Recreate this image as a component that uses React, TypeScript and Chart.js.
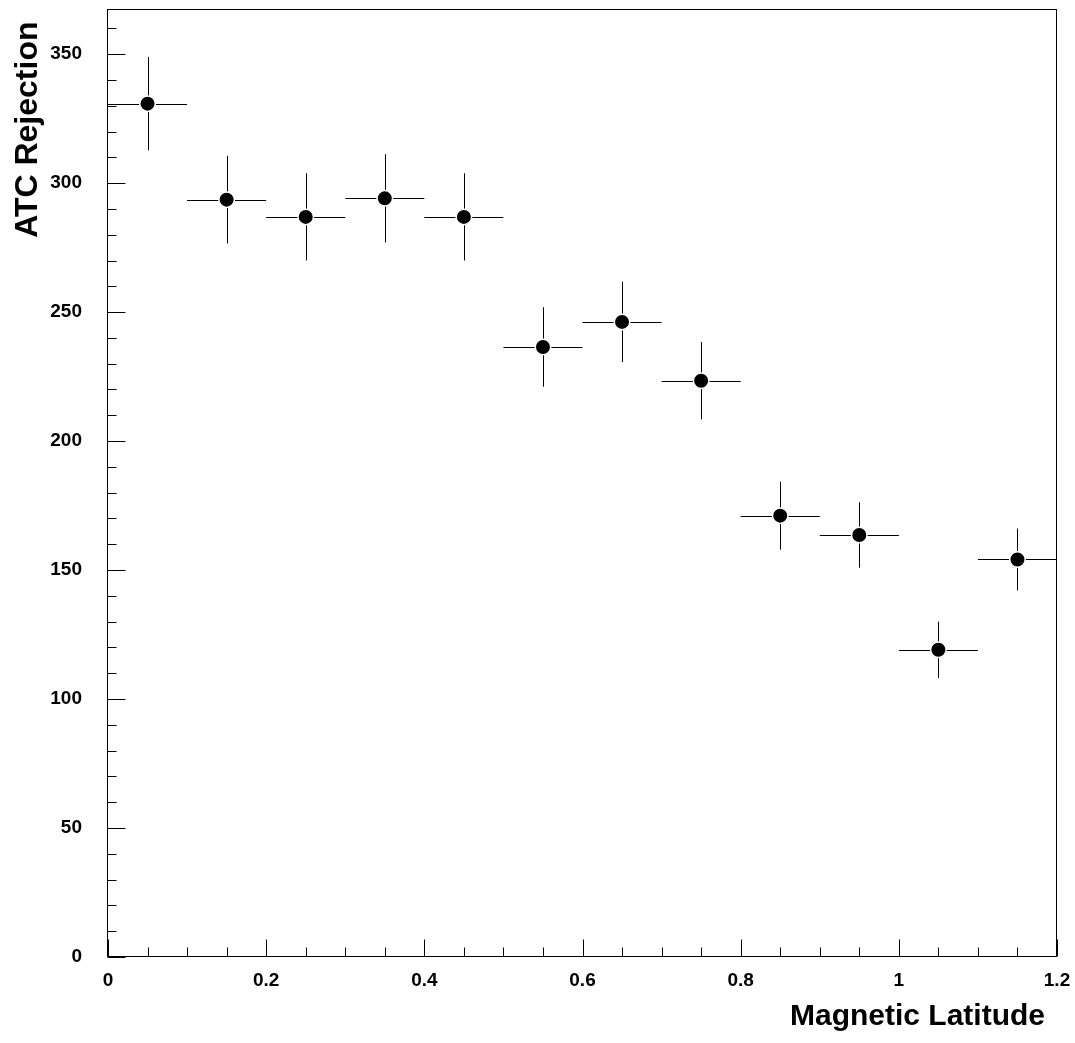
import React, { useEffect, useRef } from "react";
import { Chart, registerables } from "chart.js";

Chart.register(...registerables);

const xCenters = [0.05, 0.15, 0.25, 0.35, 0.45, 0.55, 0.65, 0.75, 0.85, 0.95, 1.05, 1.15];
const yValues = [330.8, 293.6, 286.9, 294.1, 286.9, 236.5, 246.2, 223.4, 171.1, 163.6, 119.1, 154.1];
const yErrors = [18.1, 17.0, 16.9, 17.1, 16.9, 15.4, 15.6, 15.0, 13.2, 12.7, 10.9, 12.0];
const xHalfWidths = [0.05, 0.05, 0.05, 0.05, 0.05, 0.05, 0.05, 0.05, 0.05, 0.05, 0.05, 0.05];

const xTickLabels = ["0", "0.2", "0.4", "0.6", "0.8", "1", "1.2"];
const yTickLabels = ["0", "50", "100", "150", "200", "250", "300", "350"];

const xTitle = "Magnetic Latitude";
const yTitle = "ATC Rejection";

const X_MIN = 0;
const X_MAX = 1.2;
const Y_MIN = 0;
const Y_MAX = 367.5;

const FONT = "'Liberation Sans', Arial, Helvetica, sans-serif";

const zeroPad = (s: any) => {
  s.paddingTop = 0;
  s.paddingBottom = 0;
  s.paddingLeft = 0;
  s.paddingRight = 0;
};

const frameAndErrors = {
  id: "frameAndErrors",
  beforeDatasetsDraw(chart: any) {
    const { ctx } = chart;
    const xs = chart.scales.x;
    const ys = chart.scales.y;
    ctx.save();
    ctx.strokeStyle = "#000";
    ctx.lineWidth = 1;
    for (let i = 0; i < xCenters.length; i++) {
      const cx = xs.getPixelForValue(xCenters[i]);
      const cy = ys.getPixelForValue(yValues[i]);
      const x0 = xs.getPixelForValue(xCenters[i] - xHalfWidths[i]);
      const x1 = xs.getPixelForValue(xCenters[i] + xHalfWidths[i]);
      const y0 = ys.getPixelForValue(yValues[i] + yErrors[i]);
      const y1 = ys.getPixelForValue(yValues[i] - yErrors[i]);
      const px = Math.round(cx) + 0.5;
      const py = Math.round(cy) + 0.5;
      ctx.beginPath();
      ctx.moveTo(x0, py);
      ctx.lineTo(x1, py);
      ctx.moveTo(px, y0);
      ctx.lineTo(px, y1);
      ctx.stroke();
    }
    ctx.restore();
  },
  afterDraw(chart: any) {
    const { ctx, chartArea } = chart;
    const xs = chart.scales.x;
    const ys = chart.scales.y;
    const { left, right, top, bottom } = chartArea;
    ctx.save();
    ctx.strokeStyle = "#000";
    ctx.lineWidth = 1;
    const L = Math.round(left) - 0.5;
    const B = Math.round(bottom) - 0.5;
    ctx.strokeRect(L, Math.round(top) + 0.5, Math.round(right) - Math.round(left), Math.round(bottom) - Math.round(top) - 1);
    ctx.beginPath();
    for (let v = 0; v <= Y_MAX + 1e-9; v += 10) {
      const p = Math.round(ys.getPixelForValue(v)) + 0.5;
      const len = Math.round(v) % 50 === 0 ? 18 : 9;
      ctx.moveTo(L, p);
      ctx.lineTo(L + len, p);
    }
    for (let k = 0; k <= 24; k++) {
      const v = k * 0.05;
      const p = Math.round(xs.getPixelForValue(v)) + 0.5;
      const len = k % 4 === 0 ? 17 : 9;
      ctx.moveTo(p, B);
      ctx.lineTo(p, B - len);
    }
    ctx.stroke();

    ctx.fillStyle = "#000";
    ctx.font = `bold 30px ${FONT}`;
    ctx.textAlign = "right";
    ctx.textBaseline = "alphabetic";
    ctx.fillText(xTitle, right - 12, 1025);

    ctx.font = `bold 32px ${FONT}`;
    ctx.translate(37, top + 12.5);
    ctx.rotate(-Math.PI / 2);
    ctx.textAlign = "right";
    ctx.textBaseline = "alphabetic";
    ctx.fillText(yTitle, 0, 0);
    ctx.restore();
  },
};

export default function App() {
  const ref = useRef<HTMLCanvasElement | null>(null);
  useEffect(() => {
    const canvas = ref.current;
    if (!canvas) return;
    const chart = new Chart(canvas, {
      type: "scatter",
      data: {
        datasets: [
          {
            data: xCenters.map((x, i) => ({ x, y: yValues[i] })),
            backgroundColor: "#000",
            borderColor: "#fff",
            borderWidth: 1.5,
            pointRadius: 7.75,
            pointHoverRadius: 7.75,
          },
        ],
      },
      options: {
        animation: false,
        responsive: false,
        devicePixelRatio: 1,
        events: [],
        layout: { autoPadding: false, padding: { left: 0, top: 9, right: 18, bottom: 0 } },
        plugins: {
          legend: { display: false },
          tooltip: { enabled: false },
          title: { display: false },
        },
        scales: {
          x: {
            type: "linear",
            min: X_MIN,
            max: X_MAX,
            afterFit: (s: any) => {
              s.height = 86;
              zeroPad(s);
            },
            border: { display: false },
            grid: { display: false, drawTicks: false },
            ticks: {
              stepSize: 0.2,
              includeBounds: false,
              autoSkip: false,
              maxRotation: 0,
              padding: 12,
              color: "#000",
              font: { family: FONT, size: 19, weight: "bold" },
              callback: (v: any) => {
                const idx = Math.round(Number(v) / 0.2);
                return xTickLabels[idx] ?? "";
              },
            },
          },
          y: {
            type: "linear",
            min: Y_MIN,
            max: Y_MAX,
            afterFit: (s: any) => {
              s.width = 108;
              zeroPad(s);
            },
            border: { display: false },
            grid: { display: false, drawTicks: false },
            ticks: {
              stepSize: 50,
              includeBounds: false,
              autoSkip: false,
              padding: 26,
              color: "#000",
              font: { family: FONT, size: 19, weight: "bold" },
              callback: (v: any) => {
                const idx = Math.round(Number(v) / 50);
                return yTickLabels[idx] ?? "";
              },
            },
          },
        },
      },
      plugins: [frameAndErrors],
    });
    return () => chart.destroy();
  }, []);
  return (
    <div style={{ position: "fixed", left: 0, top: 0, width: 1075, height: 1043, background: "#fff" }}>
      <canvas ref={ref} width={1075} height={1043} style={{ display: "block" }} />
    </div>
  );
}
